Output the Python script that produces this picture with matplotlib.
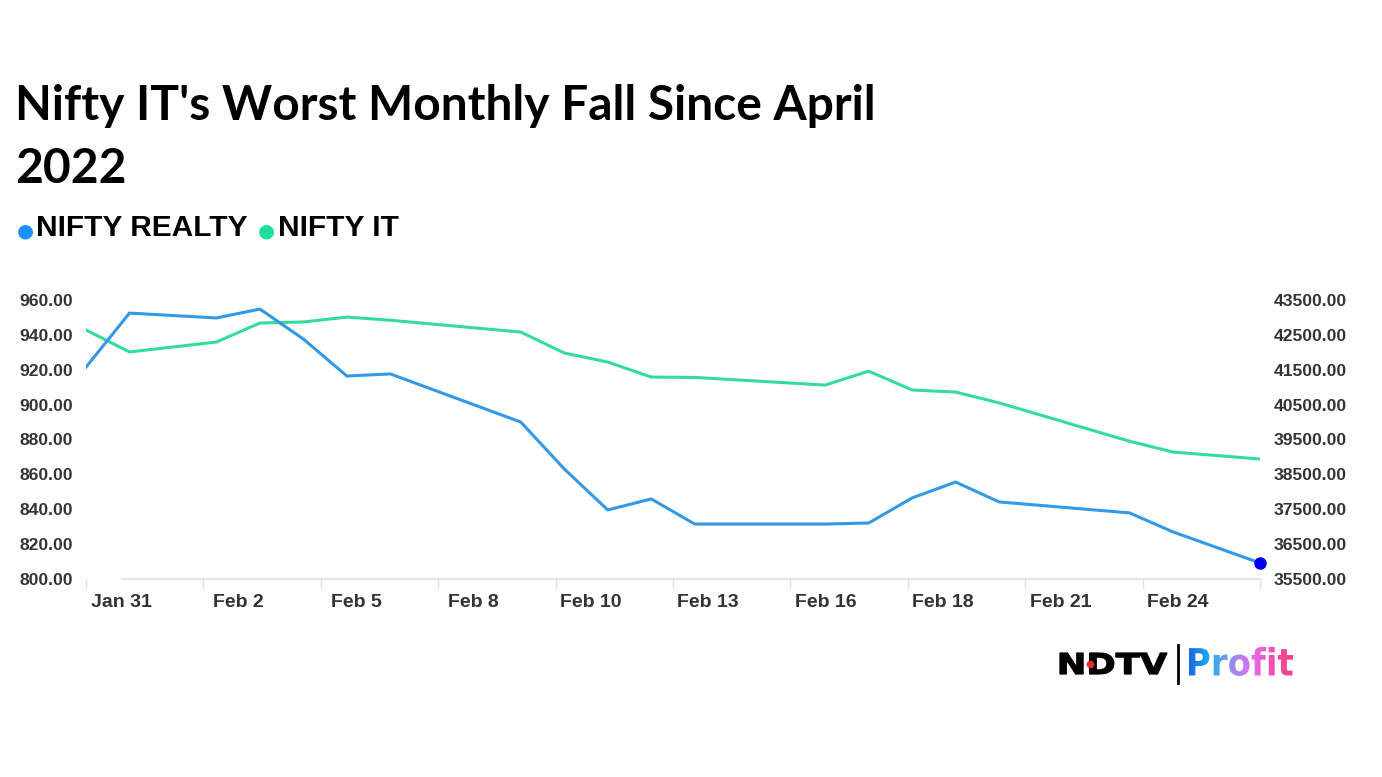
import numpy as np
import matplotlib
matplotlib.use("Agg")
import matplotlib.pyplot as plt
from matplotlib.textpath import TextPath
from matplotlib.patches import PathPatch
from matplotlib.font_manager import FontProperties
from matplotlib.transforms import Affine2D
from matplotlib.colors import LinearSegmentedColormap

# trading days, as day offsets from Jan 31
days = [0, 1, 3, 4, 5, 6, 7, 10, 11, 12, 13, 14, 17, 18, 19, 20, 21, 24, 25, 27]
realty = [921.5, 952.5, 949.7, 954.8, 937.6, 916.4, 917.6, 890.0, 863.1, 839.6,
          845.9, 831.5, 831.5, 832.1, 846.5, 855.6, 844.2, 837.9, 827.0, 809.2]
nifty_it = [42640, 42010, 42295, 42840, 42870, 43010, 42920, 42580, 41980, 41720,
            41290, 41280, 41060, 41460, 40920, 40860, 40550, 39450, 39140, 38940]
x_labels = ["Jan 31", "Feb 2", "Feb 5", "Feb 8", "Feb 10", "Feb 13",
            "Feb 16", "Feb 18", "Feb 21", "Feb 24"]
left_ticks = np.arange(800, 961, 20)
right_ticks = np.arange(35500, 43501, 1000)

blue = "#3399e6"
green = "#33dd99"
tick_col = "#333333"
W, H = 1382, 777

fig = plt.figure(figsize=(13.82, 7.77), dpi=100)
ax = fig.add_axes([86 / W, 1 - 579 / H, (1260 - 86) / W, 279 / H])
ax2 = ax.twinx()

ax.plot(days, realty, color=blue, lw=2.2, zorder=3)
ax.plot(days[-1], realty[-1], "o", color="#0000ee", ms=8, zorder=4, clip_on=False)
ax2.plot(days, nifty_it, color=green, lw=2.2, zorder=2)

ax.set_xlim(0, 27)
ax.set_ylim(800, 960)
ax2.set_ylim(35500, 43500)
ax.set_zorder(ax2.get_zorder() + 1)
ax.patch.set_visible(False)

for a in (ax, ax2):
    for s in a.spines.values():
        s.set_visible(False)

ax.axhline(800, xmin=36 / 1174, xmax=1, color="#e6e6e6", lw=1.5, clip_on=False,
           zorder=1)

major = np.linspace(0, 27, 11)
step = major[1] - major[0]
ax.set_xticks(major)
ax.set_xticklabels([])
ax.tick_params(axis="x", which="major", length=7, width=1, color="#e0e0e0")
ax.set_xticks(major[:-1] + 0.3 * step, minor=True)
ax.set_xticklabels(x_labels, minor=True, fontsize=14, fontweight="bold",
                   color=tick_col, family="Liberation Sans")
ax.tick_params(axis="x", which="minor", length=0, pad=11)

ax.set_yticks(left_ticks)
ax.set_yticklabels([f"{v:.2f}" for v in left_ticks], fontsize=12.6,
                   fontweight="bold", color=tick_col, family="Liberation Sans")
ax.tick_params(axis="y", length=0, pad=9.5)
ax2.set_yticks(right_ticks)
ax2.set_yticklabels([f"{v:.2f}" for v in right_ticks], fontsize=12.6,
                    fontweight="bold", color=tick_col, family="Liberation Sans")
ax2.tick_params(axis="y", length=0, pad=10)

# title
fig.text(15 / W, 1 - 120 / H, "Nifty IT's Worst Monthly Fall Since April",
         fontsize=34.5, fontweight="bold", family="Lato", va="baseline", ha="left")
fig.text(15 / W, 1 - 183 / H, "2022",
         fontsize=34.5, fontweight="bold", family="Lato", va="baseline", ha="left")

# legend
fig.text(17 / W, 1 - 231 / H, "●", color="#1e90ff", fontsize=14,
         va="center", family="DejaVu Sans")
fig.text(36 / W, 1 - 228 / H, "NIFTY REALTY", fontsize=21.5, fontweight="bold",
         va="center", family="Liberation Sans")
fig.text(258 / W, 1 - 231 / H, "●", color="#22dd99", fontsize=14,
         va="center", family="DejaVu Sans")
fig.text(278 / W, 1 - 228 / H, "NIFTY IT", fontsize=21.5, fontweight="bold",
         va="center", family="Liberation Sans")

# logo, drawn in pixel coordinates
lx0, lx1, ly0, ly1 = 1040, 1310, 635, 695
lax = fig.add_axes([lx0 / W, 1 - ly1 / H, (lx1 - lx0) / W, (ly1 - ly0) / H])
lax.axis("off")


def fit_text(s, family, box):
    # box: left, right, top, bottom in top-origin pixels
    tp = TextPath((0, 0), s, size=10, prop=FontProperties(family=family, weight="bold"))
    ext = tp.get_extents()
    x0, x1, top, bot = box
    tr = (Affine2D().translate(-ext.x0, -ext.y0)
          .scale((x1 - x0) / ext.width, (bot - top) / ext.height)
          .translate(x0, H - bot))
    return tr.transform_path(tp)


ndtv = fit_text("NDTV", "DejaVu Sans", (1060, 1167, 653, 674))
lax.add_patch(PathPatch(ndtv, fc="black", ec="black", lw=0.9))
lax.plot([1090], [H - 663.5], "o", color="#e52d27", ms=4.5, zorder=5)
lax.plot([1178, 1178], [H - 645, H - 683], color="black", lw=2)

profit = fit_text("Profit", "DejaVu Sans", (1189, 1293, 647, 676))
patch = PathPatch(profit, fc="none", ec="none")
lax.add_patch(patch)
grad = LinearSegmentedColormap.from_list(
    "logo", ["#1a66e0", "#1fb0f0", "#8f8ff0", "#e070f0", "#f050b0", "#f04080"])
img = lax.imshow(np.linspace(0, 1, 256)[None, :], cmap=grad, aspect="auto",
                 extent=(1189, 1293, H - 678, H - 645), zorder=4)
img.set_clip_path(patch)
lax.set_xlim(lx0, lx1)
lax.set_ylim(H - ly1, H - ly0)

fig.savefig("out.png", dpi=100, facecolor="white")
